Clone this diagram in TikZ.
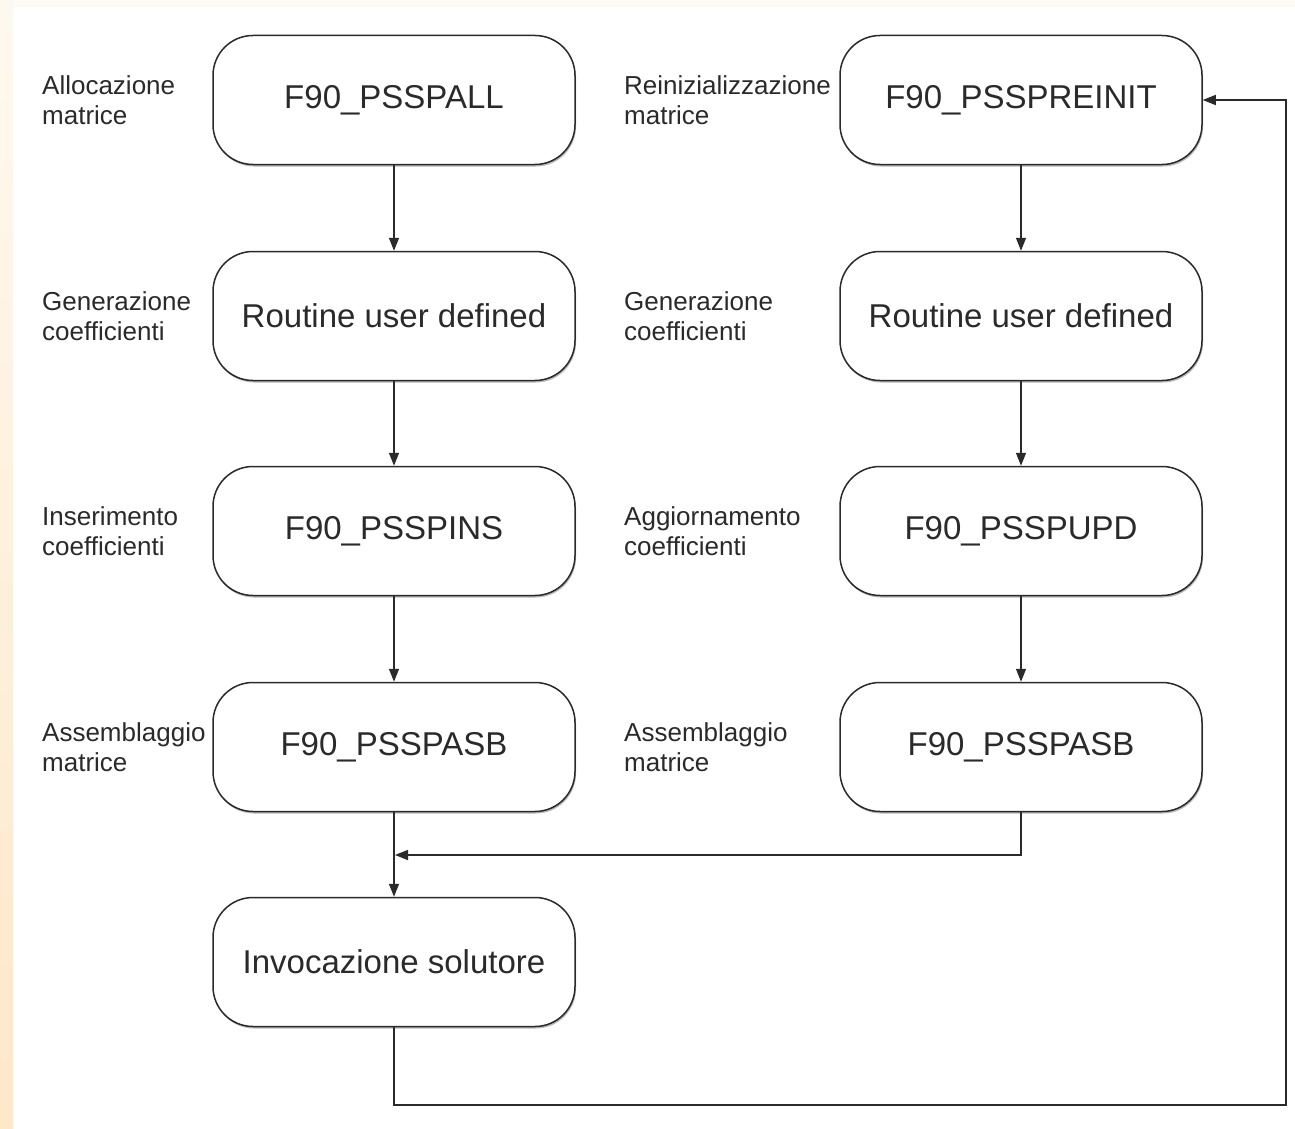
\documentclass[tikz,border=0pt]{standalone}
\usepackage{fontspec}
\setmainfont{Liberation Sans}
\usetikzlibrary{arrows.meta,shadows}
\definecolor{stripA}{HTML}{FEF9F0}
\definecolor{stripB}{HTML}{FDE8C8}
\definecolor{topstrip}{HTML}{FEFBF5}
\definecolor{ink}{HTML}{2A2A2A}
\begin{document}
\begin{tikzpicture}[x=1pt,y=-1pt,
  box/.style={draw=ink, line width=1.5pt, fill=white, rounded corners=40pt,
    minimum width=362pt, minimum height=129pt, inner sep=0pt,
    font=\fontsize{33}{38}\selectfont, text=ink,
    drop shadow={shadow xshift=1pt, shadow yshift=-2pt, fill=black!45, opacity=0.6}},
  lab/.style={anchor=west, align=left, inner sep=0pt, text=ink,
    font=\fontsize{26}{29.5}\selectfont},
  conn/.style={draw=ink, line width=1.5pt},
  arr/.style={conn, -{Triangle[length=13pt,width=10pt]}}]
\useasboundingbox (0,0) rectangle (1295,1129);
\fill[white] (0,0) rectangle (1295,1129);
\fill[topstrip] (0,0) rectangle (1295,7);
\shade[top color=stripA, bottom color=stripB] (0,0) rectangle (13,1129);
% boxes
\node[box] (l1) at (394,100) {F90\_PSSPALL};
\node[box] (l2) at (394,316) {Routine user defined};
\node[box] (l3) at (394,531) {F90\_PSSPINS};
\node[box] (l4) at (394,747) {F90\_PSSPASB};
\node[box] (l5) at (394,962) {Invocazione solutore};
\node[box] (r1) at (1021,100) {F90\_PSSPREINIT};
\node[box] (r2) at (1021,316) {Routine user defined};
\node[box] (r3) at (1021,531) {F90\_PSSPUPD};
\node[box] (r4) at (1021,747) {F90\_PSSPASB};
% labels
\node[lab] (la1) at (42,100) {Allocazione\\matrice};
\node[lab] (la2) at (42,316) {Generazione\\coefficienti};
\node[lab] (la3) at (42,531) {Inserimento\\coefficienti};
\node[lab] (la4) at (42,747) {Assemblaggio\\matrice};
\node[lab] (ra1) at (624,100) {Reinizializzazione\\matrice};
\node[lab] (ra2) at (624,316) {Generazione\\coefficienti};
\node[lab] (ra3) at (624,531) {Aggiornamento\\coefficienti};
\node[lab] (ra4) at (624,747) {Assemblaggio\\matrice};
% connectors
\draw[arr] (l1.south) -- (l2.north);
\draw[arr] (l2.south) -- (l3.north);
\draw[arr] (l3.south) -- (l4.north);
\draw[arr] (l4.south) -- (l5.north);
\draw[arr] (r1.south) -- (r2.north);
\draw[arr] (r2.south) -- (r3.north);
\draw[arr] (r3.south) -- (r4.north);
\coordinate (join) at (395,855);
\draw[arr] (r4.south) |- (join);
\coordinate (loopc) at (1286,1105);
\draw[arr] (l5.south) |- (loopc) |- (r1.east);
\end{tikzpicture}
\end{document}
